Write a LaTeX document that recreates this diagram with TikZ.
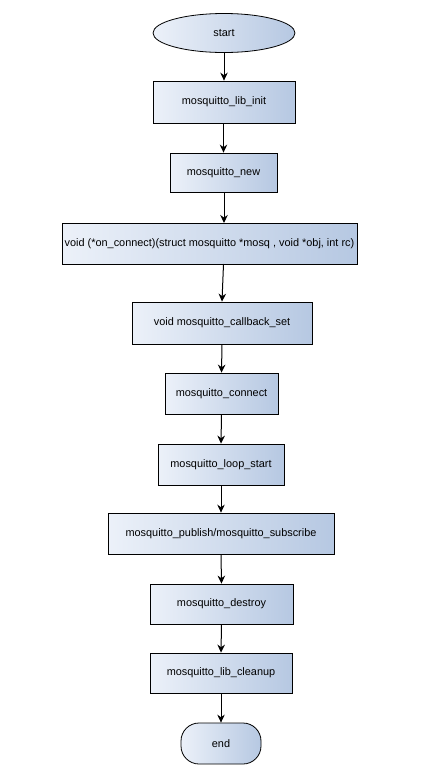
\documentclass[tikz,border=0pt]{standalone}
\usepackage{fontspec}
\setmainfont{Liberation Sans}
\usetikzlibrary{arrows.meta,shapes.geometric}
\definecolor{gradleft}{RGB}{236,241,249}
\definecolor{gradright}{RGB}{182,200,226}
\begin{document}
\begin{tikzpicture}[x=1pt,y=-1pt,
  boxfill/.style={left color=gradleft, right color=gradright},
  proc/.style={draw, line width=0.8pt, boxfill, inner sep=0pt, font=\fontsize{10.9}{13}\selectfont},
  arr/.style={-{Stealth[length=8pt,width=7.5pt]}, line width=1pt}]
\useasboundingbox (0,0) rectangle (432,774);
\fill[white] (0,0) rectangle (432,774);
\node[proc, ellipse, minimum width=142pt, minimum height=39pt] (start) at (224,33) {start};
\node[proc, rectangle, minimum width=142pt, minimum height=42pt] (init) at (224,102) {mosquitto\_lib\_init};
\node[proc, rectangle, minimum width=107pt, minimum height=39pt] (new) at (223.5,172.5) {mosquitto\_new};
\node[proc, rectangle, minimum width=295pt, minimum height=41pt] (onc) at (209.5,243.5) {void (*on\_connect)(struct mosquitto *mosq , void *obj, int rc)};
\node[proc, rectangle, minimum width=180pt, minimum height=42pt] (cb) at (222,323) {void mosquitto\_callback\_set};
\node[proc, rectangle, minimum width=113pt, minimum height=41pt] (conn) at (221.5,393.5) {mosquitto\_connect};
\node[proc, rectangle, minimum width=126pt, minimum height=41pt] (loop) at (221,464.5) {mosquitto\_loop\_start};
\node[proc, rectangle, minimum width=226pt, minimum height=41pt] (pub) at (221,533.5) {mosquitto\_publish/mosquitto\_subscribe};
\node[proc, rectangle, minimum width=143pt, minimum height=40pt] (des) at (221.5,604) {mosquitto\_destroy};
\node[proc, rectangle, minimum width=142pt, minimum height=40pt] (clean) at (221,673) {mosquitto\_lib\_cleanup};
\node[proc, rectangle, rounded corners=18pt, minimum width=80pt, minimum height=41pt] (end) at (221,743.5) {end};
\draw[arr] (start.south) -- (init.north);
\draw[arr] (init.south -| new.north) -- (new.north);
\draw[arr] (new.south -| 224,0) -- (224,223);
\draw[arr] (223.5,264) -- (cb.north);
\draw[arr] (cb.south) -- (conn.north);
\draw[arr] (conn.south) -- (loop.north);
\draw[arr] (loop.south) -- (pub.north);
\draw[arr] (pub.south) -- (des.north);
\draw[arr] (des.south) -- (clean.north);
\draw[arr] (clean.south) -- (end.north);
\end{tikzpicture}
\end{document}
